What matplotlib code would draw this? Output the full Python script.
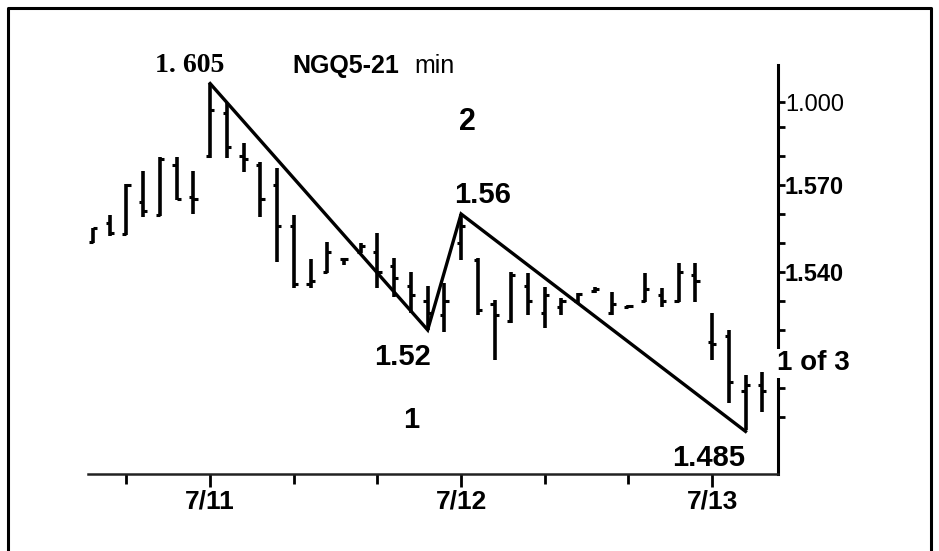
import numpy as np
import matplotlib
matplotlib.use("Agg")
from matplotlib import pyplot as plt
from matplotlib.lines import Line2D

plt.rcParams['font.family'] = ['Liberation Sans', 'DejaVu Sans']

# OHLC bars (one bar per slot, 15 slots per day)
highs = [1.5552, 1.5597, 1.5703, 1.5748, 1.5797, 1.5797, 1.5748, 1.6050, 1.5983, 1.5845,
         1.5779, 1.5759, 1.5597, 1.5445, 1.5503, 1.5448, 1.5500, 1.5534, 1.5448, 1.5400,
         1.5352, 1.5362, 1.5600, 1.5448, 1.5303, 1.5400, 1.5397, 1.5348, 1.5310, 1.5328,
         1.5348, 1.5331, 1.5286, 1.5397, 1.5345, 1.5431, 1.5431, 1.5259, 1.5200, 1.5045,
         1.5055]
lows = [1.5500, 1.5524, 1.5528, 1.5590, 1.5593, 1.5648, 1.5600, 1.5793, 1.5793, 1.5745,
        1.5590, 1.5434, 1.5345, 1.5345, 1.5397, 1.5424, 1.5466, 1.5345, 1.5314, 1.5259,
        1.5200, 1.5193, 1.5441, 1.5252, 1.5097, 1.5224, 1.5252, 1.5207, 1.5252, 1.5293,
        1.5328, 1.5252, 1.5276, 1.5297, 1.5279, 1.5297, 1.5297, 1.5097, 1.4948, 1.4855,
        1.4917]
opens = [1.5505, 1.5570, 1.5530, 1.5640, 1.5595, 1.5770, 1.5660, 1.5800, 1.5950, 1.5800,
         1.5770, 1.5700, 1.5560, 1.5360, 1.5400, 1.5445, 1.5470, 1.5470, 1.5420, 1.5350,
         1.5300, 1.5250, 1.5500, 1.5440, 1.5290, 1.5230, 1.5350, 1.5260, 1.5280, 1.5300,
         1.5335, 1.5260, 1.5280, 1.5300, 1.5320, 1.5300, 1.5390, 1.5160, 1.5180, 1.4990,
         1.5010]
closes = [1.5550, 1.5535, 1.5700, 1.5610, 1.5790, 1.5650, 1.5650, 1.5960, 1.5830, 1.5790,
          1.5650, 1.5560, 1.5360, 1.5370, 1.5470, 1.5445, 1.5490, 1.5400, 1.5380, 1.5320,
          1.5260, 1.5300, 1.5560, 1.5270, 1.5250, 1.5390, 1.5300, 1.5320, 1.5300, 1.5325,
          1.5340, 1.5290, 1.5282, 1.5340, 1.5300, 1.5400, 1.5370, 1.5150, 1.5020, 1.5010,
          1.4990]

# swing line
swing_x = [7, 20, 22, 39]
swing_y = [1.605, 1.52, 1.56, 1.485]

day_pos = [7, 22, 37]
day_labels = ['7/11', '7/12', '7/13']
minor_x = [2, 12, 17, 27, 32]

ytick_pos = [1.5985, 1.570, 1.540]
ytick_labels = ['1.000', '1.570', '1.540']
minor_y = [1.59, 1.58, 1.56, 1.55, 1.53, 1.52, 1.50, 1.49]

fig = plt.figure(figsize=(9.39, 5.51), dpi=100)
ax = fig.add_axes([88 / 939, 1 - 474 / 551, 690 / 939, 409 / 551])

x = np.arange(len(highs))
ax.vlines(x, lows, highs, color='black', lw=2.6)
ax.hlines(opens, x - 0.25, x, color='black', lw=2.2)
ax.hlines(closes, x, x + 0.25, color='black', lw=2.2)
ax.plot(swing_x, swing_y, color='black', lw=2.4, solid_joinstyle='miter')

ax.set_xlim(-0.3, 40.94)
ax.set_ylim(1.4703, 1.6114)

for s in ['top', 'left']:
    ax.spines[s].set_visible(False)
ax.spines['bottom'].set_color('#222222')
ax.spines['bottom'].set_linewidth(1.8)
ax.spines['right'].set_linewidth(2.2)

ax.set_xticks(day_pos)
ax.set_xticklabels(day_labels, fontsize=19, fontweight='bold')
ax.set_xticks(minor_x, minor=True)
ax.tick_params(axis='x', which='major', length=9, width=2, pad=2)
ax.tick_params(axis='x', which='minor', length=7, width=2)

ax.yaxis.tick_right()
ax.set_yticks(ytick_pos)
ax.set_yticklabels(ytick_labels, fontsize=17, fontweight='bold')
ax.get_yticklabels()[0].set_fontweight('normal')
ax.set_yticks(minor_y, minor=True)
ax.tick_params(axis='y', which='both', length=5, width=2, pad=0)

# annotations
ax.text(22.4, 1.5917, '2', fontsize=22, fontweight='bold', ha='center', va='center')
ax.text(23.3, 1.5666, '1.56', fontsize=21, fontweight='bold', ha='center', va='center')
ax.text(18.5, 1.5107, '1.52', fontsize=21, fontweight='bold', ha='center', va='center')
ax.text(19.0, 1.489, '1', fontsize=21, fontweight='bold', ha='center', va='center')
ax.text(36.8, 1.4759, '1.485', fontsize=21, fontweight='bold', ha='center', va='center')
ax.text(0.998, 1.5085, '1 of 3', fontsize=20, fontweight='bold', ha='left', va='center',
        transform=ax.get_yaxis_transform(), zorder=5,
        bbox=dict(facecolor='white', edgecolor='none', pad=1))

fig.text(190 / 939, 1 - 66 / 551, '1. 605', fontsize=20, fontweight='bold',
         family='Liberation Serif', ha='center', va='center')
fig.text(399 / 939, 1 - 66 / 551, 'NGQ5-21', fontsize=18, fontweight='bold',
         ha='right', va='center')
fig.text(414 / 939, 1 - 66 / 551, 'min', fontsize=18, ha='left', va='center')

# outer frame
fx = [8 / 939, 8 / 939, 931 / 939, 931 / 939]
fy = [0, 1 - 8 / 551, 1 - 8 / 551, 0]
fig.add_artist(Line2D(fx, fy, color='black', lw=2.2))

fig.savefig('out.png', dpi=100)
